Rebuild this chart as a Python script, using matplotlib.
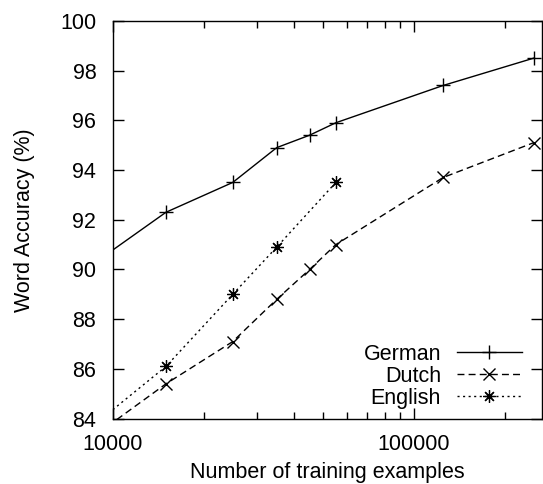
import matplotlib.pyplot as plt
from matplotlib.ticker import LogLocator, NullFormatter, FixedLocator

plt.rcParams['font.family'] = ['Liberation Sans', 'DejaVu Sans']

# training set sizes and word accuracy (%)
german_x = [5000, 15000, 25000, 35000, 45000, 55000, 125000, 250000]
german_y = [88.2, 92.3, 93.5, 94.9, 95.4, 95.9, 97.4, 98.5]

dutch_x = [5000, 15000, 25000, 35000, 45000, 55000, 125000, 250000]
dutch_y = [81.2, 85.4, 87.1, 88.8, 90.0, 91.0, 93.7, 95.1]

english_x = [5000, 15000, 25000, 35000, 55000]
english_y = [81.4, 86.1, 89.0, 90.9, 93.5]

fs = 15.5

fig = plt.figure(figsize=(5.43, 4.84), dpi=100)
ax = fig.add_axes([0.208, 0.135, 0.790, 0.822])

ax.plot(german_x, german_y, color='black', lw=1.0, marker='+', ms=10, mew=1.0,
        label='German')
ax.plot(dutch_x, dutch_y, color='black', lw=1.0, dashes=(5, 3), marker='x', ms=8,
        mew=1.0, label='Dutch')
ax.plot(english_x, english_y, color='black', lw=1.0, dashes=(1.5, 2.5),
        marker=(8, 2, 0), ms=9, mew=0.9, label='English')

ax.set_xscale('log')
ax.set_xlim(10000, 266000)
ax.set_ylim(84, 100)
ax.set_yticks(range(84, 101, 2))
ax.xaxis.set_major_locator(FixedLocator([10000, 100000]))
ax.set_xticklabels(['10000', '100000'])
ax.xaxis.set_minor_locator(LogLocator(base=10, subs=range(2, 10)))
ax.xaxis.set_minor_formatter(NullFormatter())

ax.tick_params(which='both', direction='in', top=True, right=True,
               labelsize=fs, width=1.0)
ax.tick_params(axis='y', pad=12)
ax.tick_params(axis='x', pad=11)
ax.tick_params(which='major', length=8)
ax.tick_params(which='minor', length=5)
for s in ax.spines.values():
    s.set_linewidth(1.0)

ax.set_xlabel('Number of training examples', fontsize=fs, labelpad=5)
ax.set_ylabel('Word Accuracy (%)', fontsize=fs, labelpad=18)

leg = ax.legend(loc='lower right', bbox_to_anchor=(0.953, 0.025),
                markerfirst=False, frameon=False, fontsize=fs,
                handlelength=3.0, labelspacing=0.05, handletextpad=0.75,
                borderpad=0, borderaxespad=0)
for t in leg.get_texts():
    t.set_ha('right')

fig.savefig('out.png', dpi=100)
